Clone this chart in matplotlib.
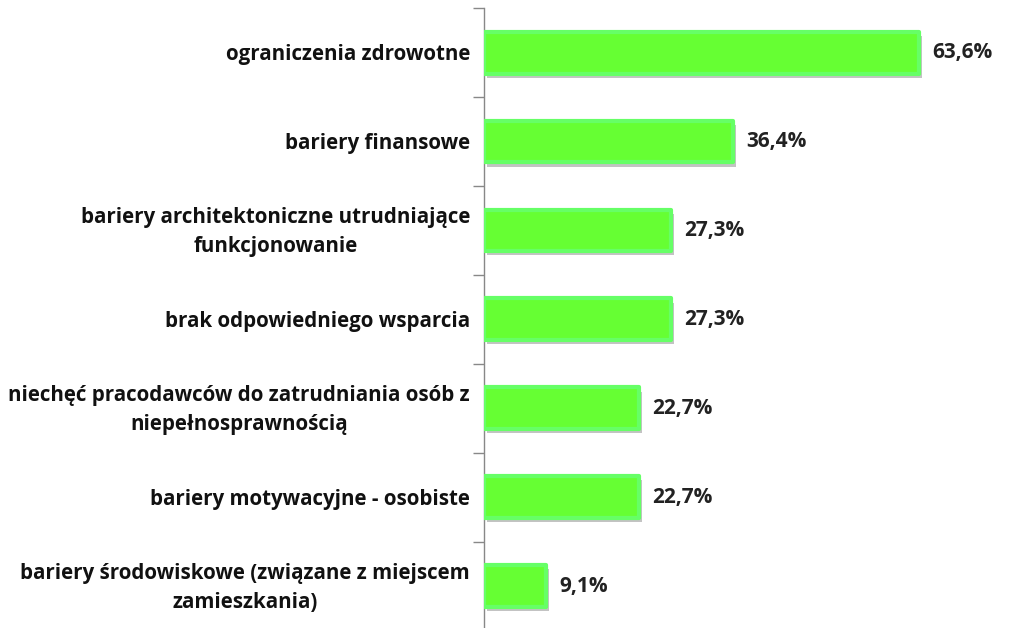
import matplotlib
matplotlib.use("Agg")
import matplotlib.pyplot as plt
from matplotlib import patheffects as pe
from matplotlib.transforms import offset_copy

categories = [
    "ograniczenia zdrowotne",
    "bariery finansowe",
    "bariery architektoniczne utrudniające\nfunkcjonowanie",
    "brak odpowiedniego wsparcia",
    "niechęć pracodawców do zatrudniania osób z\nniepełnosprawnością",
    "bariery motywacyjne - osobiste",
    "bariery środowiskowe (związane z miejscem\nzamieszkania)",
]
values = [63.6, 36.4, 27.3, 27.3, 22.7, 22.7, 9.1]
value_labels = ["63,6%", "36,4%", "27,3%", "27,3%", "22,7%", "22,7%", "9,1%"]

fig = plt.figure(figsize=(10.12, 6.28), dpi=100)
ax = fig.add_axes([0.4783, -0.004, 0.48, 0.991])

n = len(categories)
ypos = list(range(n))
bars = ax.barh(ypos, values, height=0.47, color="#66FF33", edgecolor="#66FF66",
               linewidth=3, zorder=3)
for b in bars:
    b.set_joinstyle("round")
    b.set_path_effects([pe.SimplePatchShadow(offset=(2, -3), shadow_rgbFace="#555555", alpha=0.35),
                        pe.Normal()])

ax.set_xlim(0, 71)
ax.set_ylim(n - 0.5, -0.5)

for y, v, lab in zip(ypos, values, value_labels):
    t = offset_copy(ax.transData, fig=fig, x=13, y=0, units="dots")
    ax.text(v, y, lab, transform=t, ha="left", va="center", fontsize=15,
            fontweight="bold", color="#222222", family="Open Sans")

for y, c in zip(ypos, categories):
    t = offset_copy(ax.transData, fig=fig, x=-14, y=-2, units="dots")
    ax.text(0, y, c, transform=t, ha="right", va="center", multialignment="center",
            fontsize=14.8, fontweight="bold", color="#111111", family="Open Sans",
            linespacing=1.5)

ax.set_yticks([i - 0.5 for i in range(n + 1)])
ax.set_yticklabels([])
ax.tick_params(axis="y", direction="out", length=8, color="#888888", width=1)
ax.set_xticks([])
for s in ["top", "right", "bottom"]:
    ax.spines[s].set_visible(False)
ax.spines["left"].set_color("#888888")
ax.spines["left"].set_linewidth(1)
ax.set_facecolor("none")

fig.savefig("out.png", dpi=100)
